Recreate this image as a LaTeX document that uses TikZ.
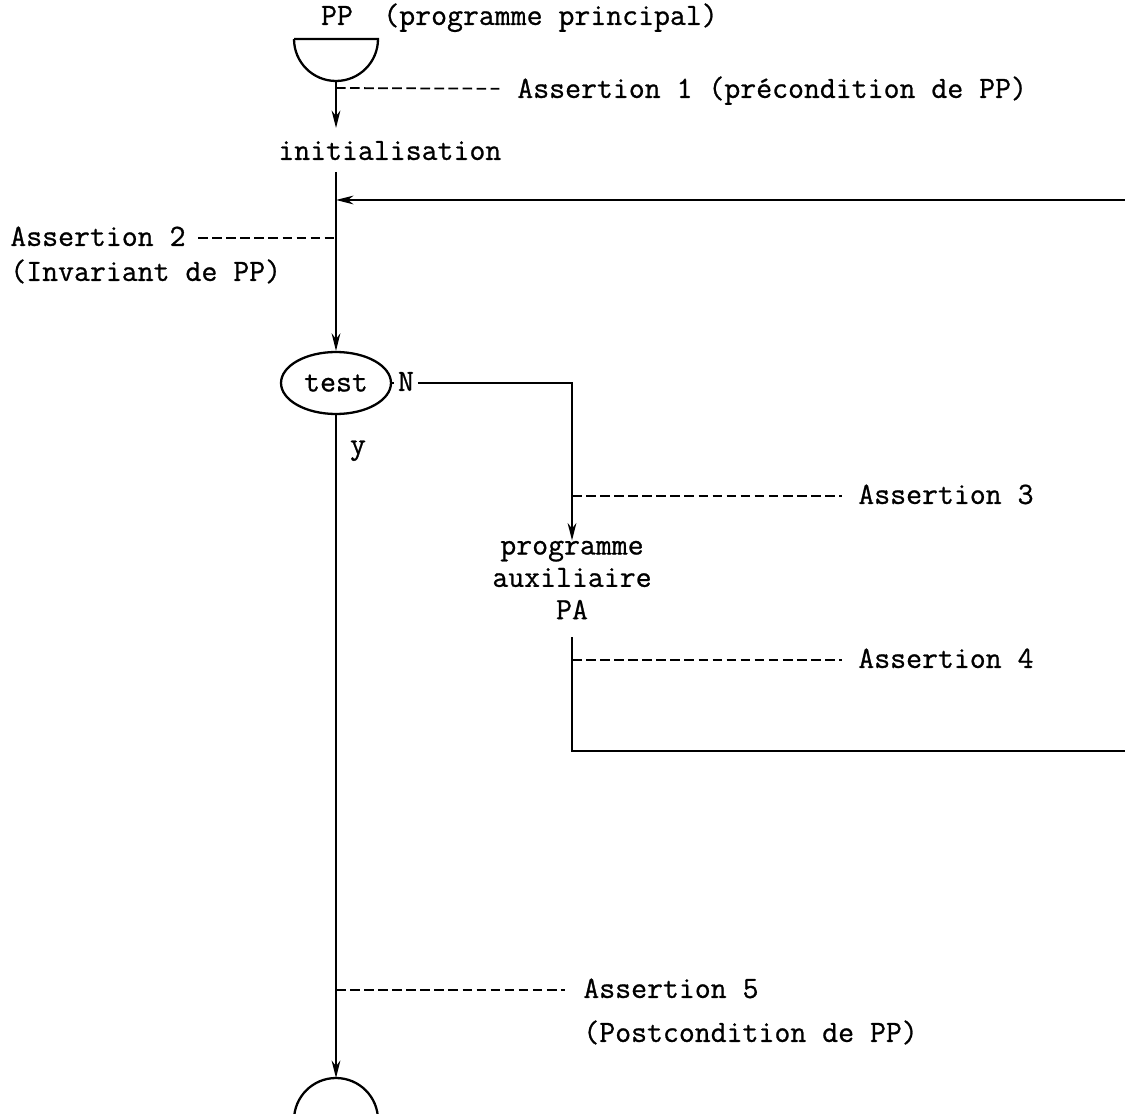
\documentclass[tikz,border=0pt]{standalone}
\usepackage{fontspec}
\newfontfamily\machine{Latin Modern Mono}[FakeBold=0.8]
\usetikzlibrary{shapes.geometric,arrows.meta}
\tikzset{
  ligne/.style={line width=1pt},
  fleche/.style={line width=1pt,-{Stealth[length=10pt,width=5pt]}},
  tirets/.style={line width=1pt,dash pattern=on 5.5pt off 2.5pt},
  texte/.style={inner sep=0pt,text height=11pt,text depth=2pt,font=\machine\fontsize{17.6}{20}\selectfont},
  bloc/.style={inner sep=0pt,align=center,font=\machine\fontsize{17.6}{18.4}\selectfont},
}

\begin{document}
\begin{tikzpicture}[x=0.02cm,y=-0.02cm]
    \useasboundingbox (0,0) rectangle (1125,1114);

    \draw[line width=1.3pt] (294,39) -- (378,39) arc[start angle=0,end angle=180,radius=42];
    \node[texte] (pp) at (337,17) {PP};
    \node[texte,anchor=west] (princ) at (383,17) {(programme principal)};
    \coordinate (ppbas) at (336,81);

    \node[texte,anchor=west] (a1) at (517,90) {Assertion 1 (précondition de PP)};
    \coordinate (p1) at (336,88);

    \node[texte,anchor=west] (init) at (278,152) {initialisation};
    \coordinate (initbas) at (336,172);

    \coordinate (rhaut) at (1125,200);
    \coordinate (jhaut) at (336,200);

    \node[texte,anchor=west] (a2) at (10,238) {Assertion 2};
    \node[texte,anchor=west] (inv) at (10,273) {(Invariant de PP)};
    \coordinate (p2) at (336,238);

    \node[ellipse,draw,line width=1.3pt,minimum width=2.2cm,minimum height=1.24cm,inner sep=0pt,
          font=\machine\fontsize{17.6}{20}\selectfont] (test) at (336,383) {test};
    \node[texte,inner xsep=2pt] (n) at (406,383) {N};
    \node[texte] (y) at (358,446) {y};

    \node[bloc] (prog) at (572,580) {programme\\auxiliaire\\PA};
    \coordinate (p3) at (572,496);
    \node[texte,anchor=west] (a3) at (858,496) {Assertion 3};
    \coordinate (pabas) at (572,637);
    \coordinate (p4) at (572,660);
    \node[texte,anchor=west] (a4) at (858,660) {Assertion 4};
    \coordinate (rbas) at (1125,751);

    \coordinate (p5) at (336,990);
    \node[texte,anchor=west] (a5) at (583,990) {Assertion 5};
    \node[texte,anchor=west] (post) at (583,1034) {(Postcondition de PP)};

    \coordinate (fin) at (336,1078);
    \draw[line width=1.3pt] (294,1120) arc[start angle=180,end angle=360,radius=42];

    \draw[fleche] (ppbas) -- (336,128);
    \draw[tirets,shorten >=10pt] (p1) -- (a1);
    \draw[ligne] (initbas) -- (jhaut);
    \draw[fleche] (rhaut) -- (jhaut);
    \draw[tirets,shorten <=7pt] (a2) -- (p2);
    \draw[fleche] (jhaut) -- (test.north);
    \draw[ligne] (test.east) -- (n.west);
    \draw[fleche] (n.east) -| (prog.north);
    \draw[tirets,shorten >=9pt] (p3) -- (a3);
    \draw[ligne] (pabas) |- (rbas);
    \draw[tirets,shorten >=9pt] (p4) -- (a4);
    \draw[fleche] (test.south) -- (fin);
    \draw[tirets,shorten >=10pt] (p5) -- (a5);

\end{tikzpicture}
\end{document}
